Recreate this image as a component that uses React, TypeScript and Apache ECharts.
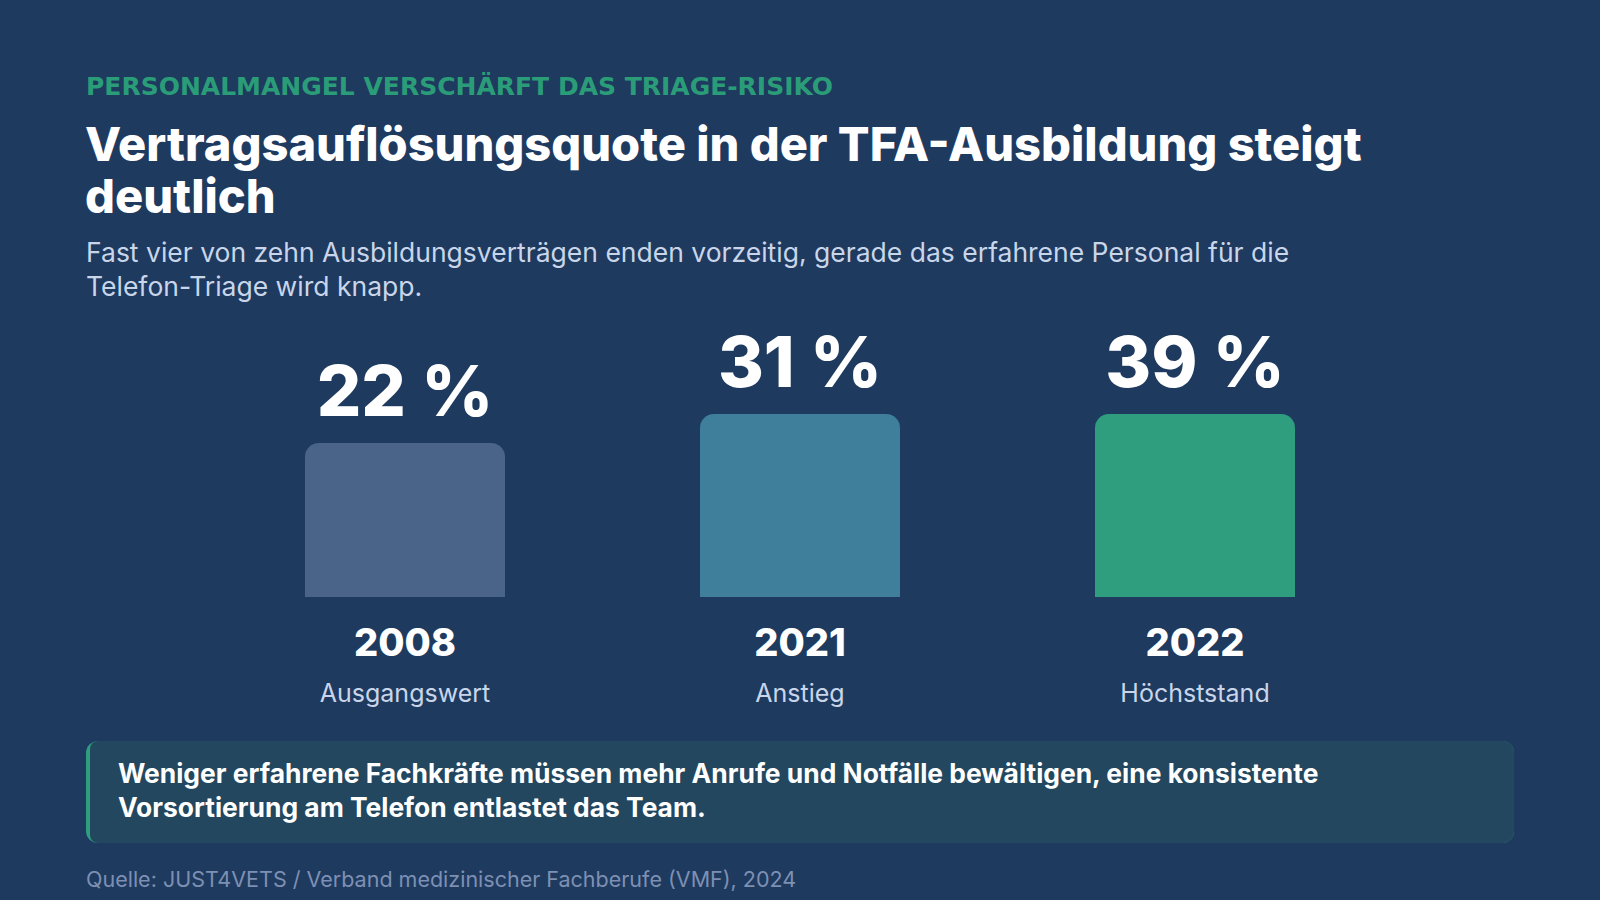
import React, { useEffect, useRef } from "react";
import * as echarts from "echarts";

const years = ["2008", "2021", "2022"];
const stageLabels = ["Ausgangswert", "Anstieg", "Höchststand"];
const quotaValues = [22, 31, 39];
const barColors = ["#4a6389", "#3f7f9c", "#2e9e7e"];

const overline = "PERSONALMANGEL VERSCHÄRFT DAS TRIAGE-RISIKO";
const titleLines = ["Vertragsauflösungsquote in der TFA-Ausbildung steigt", "deutlich"];
const subtitleText =
  "Fast vier von zehn Ausbildungsverträgen enden vorzeitig, gerade das erfahrene Personal für die\nTelefon-Triage wird knapp.";
const calloutText =
  "Weniger erfahrene Fachkräfte müssen mehr Anrufe und Notfälle bewältigen, eine konsistente\nVorsortierung am Telefon entlastet das Team.";
const sourceText = "Quelle: JUST4VETS / Verband medizinischer Fachberufe (VMF), 2024";

const FONT = "Inter, 'Noto Sans', sans-serif";
const BG = "#1f3a5f";

export default function App() {
  const ref = useRef<HTMLDivElement>(null);

  useEffect(() => {
    if (!ref.current) return;
    const chart = echarts.init(ref.current, undefined, { renderer: "svg" });
    const option: any = {
      animation: false,
      backgroundColor: BG,
      grid: { left: 207.5, width: 1185, top: 414, height: 183, containLabel: false },
      xAxis: {
        type: "category",
        data: years,
        axisLine: { show: false },
        axisTick: { show: false },
        splitLine: { show: false },
        axisLabel: {
          margin: 20,
          interval: 0,
          formatter: (_v: string, i: number) => `{y|${years[i]}}\n{s|${stageLabels[i]}}`,
          rich: {
            y: {
              fontFamily: FONT,
              fontSize: 38,
              fontWeight: 800,
              color: "#ffffff",
              lineHeight: 50,
              align: "center",
            },
            s: {
              fontFamily: FONT,
              fontSize: 25,
              fontWeight: 400,
              color: "#c9d6ea",
              lineHeight: 52,
              align: "center",
            },
          },
        },
      },
      yAxis: {
        type: "value",
        min: 0,
        max: 183 / 7,
        show: false,
        splitLine: { show: false },
      },
      series: [
        {
          type: "bar",
          clip: true,
          barWidth: 200,
          data: quotaValues.map((v, i) => ({
            value: v,
            itemStyle: { color: barColors[i], borderRadius: [14, 14, 0, 0] },
          })),
          label: {
            show: true,
            position: "top",
            distance: 18,
            formatter: (p: any) => `${p.value} %`,
            fontFamily: FONT,
            fontSize: 70,
            fontWeight: 800,
            color: "#ffffff",
            lineHeight: 70,
          },
        },
      ],
      graphic: [
        {
          type: "text",
          x: 86,
          y: 86,
          style: {
            text: overline,
            fontFamily: "'DejaVu Sans', sans-serif",
            fontSize: 25,
            fontWeight: 700,
            verticalAlign: "middle",
            fill: "#2a9d78",
          },
        },
        {
          type: "text",
          x: 85,
          y: 143,
          style: {
            text: titleLines[0],
            fontFamily: FONT,
            fontSize: 47,
            fontWeight: 800,
            verticalAlign: "middle",
            fill: "#ffffff",
          },
        },
        {
          type: "text",
          x: 85,
          y: 195,
          style: {
            text: titleLines[1],
            fontFamily: FONT,
            fontSize: 47,
            fontWeight: 800,
            verticalAlign: "middle",
            fill: "#ffffff",
          },
        },
        {
          type: "text",
          x: 86,
          y: 235,
          style: {
            text: subtitleText,
            fontFamily: FONT,
            fontSize: 26.5,
            fontWeight: 400,
            lineHeight: 34,
            verticalAlign: "top",
            fill: "#c9d6ea",
          },
        },
        {
          type: "rect",
          shape: { x: 86, y: 741, width: 1428, height: 102, r: 12 },
          style: { fill: "#2e9e7e" },
        },
        {
          type: "rect",
          shape: { x: 90, y: 741, width: 1424, height: 102, r: [8, 12, 12, 8] },
          style: { fill: "#22475f" },
        },
        {
          type: "text",
          x: 118,
          y: 773 - 17,
          style: {
            text: calloutText,
            fontFamily: FONT,
            fontSize: 26.4,
            fontWeight: 700,
            lineHeight: 34,
            verticalAlign: "top",
            fill: "#ffffff",
          },
        },
        {
          type: "text",
          x: 86,
          y: 879,
          style: {
            text: sourceText,
            fontFamily: FONT,
            fontSize: 21.5,
            fontWeight: 400,
            verticalAlign: "middle",
            fill: "#7d90b3",
          },
        },
      ],
    };
    chart.setOption(option);
    return () => chart.dispose();
  }, []);

  return (
    <div
      style={{
        position: "fixed",
        left: 0,
        top: 0,
        width: 1600,
        height: 900,
        background: BG,
      }}
    >
      <div ref={ref} style={{ width: 1600, height: 900 }} />
    </div>
  );
}
